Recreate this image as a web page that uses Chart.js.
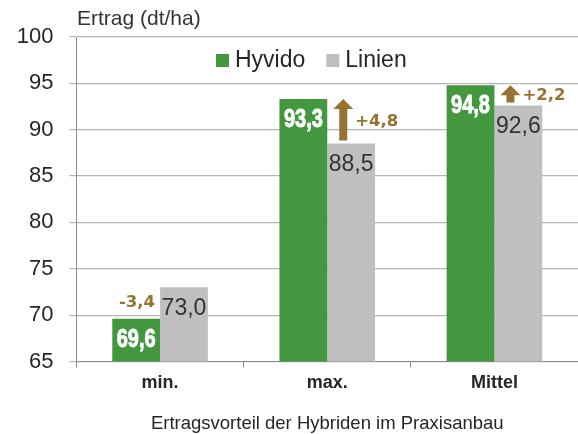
<!DOCTYPE html>
<html lang="de">
<head>
<meta charset="UTF-8">
<title>Ertragsvorteil der Hybriden</title>
<script src="https://cdn.jsdelivr.net/npm/chart.js@4/dist/chart.umd.min.js"></script>
<style>
  html, body { margin: 0; padding: 0; background: #fff; overflow: hidden; }
  #wrap { position: relative; width: 578px; height: 434px; }
</style>
</head>
<body>
<div id="wrap"><canvas id="chart" width="578" height="434"></canvas></div>
<script>
// values
const categories = ['min.', 'max.', 'Mittel'];
const hyvido = [69.6, 93.3, 94.8];
const linien = [73.0, 88.5, 92.6];
const diffLabels = ['-3,4', '+4,8', '+2,2'];
const yTicks = [65, 70, 75, 80, 85, 90, 95, 100];

const FONT = '"Liberation Sans", Arial, sans-serif';
const GREEN = '#43983f';
const GREY = '#bfbfbf';
const BROWN = '#987230';
const TEXT = '#262626';

Chart.defaults.font.family = FONT;
Chart.defaults.color = TEXT;

function fmt(v) {
  return v.toFixed(1).replace('.', ',');
}

// title, legend, value labels and the arrows
const extras = {
  id: 'extras',
  afterDatasetsDraw(chart) {
    const ctx = chart.ctx;
    const green = chart.getDatasetMeta(0).data;
    const grey = chart.getDatasetMeta(1).data;
    ctx.save();
    ctx.textBaseline = 'middle';
    ctx.textAlign = 'center';

    green.forEach((bar, i) => {
      ctx.save();
      ctx.translate(bar.x, bar.y + 21);
      ctx.scale(0.8, 1);
      ctx.font = 'bold 25px ' + FONT;
      ctx.fillStyle = '#fff';
      ctx.strokeStyle = '#fff';
      ctx.lineWidth = 0.9;
      ctx.fillText(fmt(hyvido[i]), 0, 0);
      ctx.strokeText(fmt(hyvido[i]), 0, 0);
      ctx.restore();
    });

    ctx.font = '23px ' + FONT;
    ctx.fillStyle = '#333';
    grey.forEach((bar, i) => {
      ctx.fillText(fmt(linien[i]), bar.x, bar.y + 21);
    });

    // difference marks
    ctx.fillStyle = BROWN;
    ctx.font = 'bold 16.5px "DejaVu Sans", sans-serif';
    grey.forEach((bar, i) => {
      const g = green[i];
      const left = bar.x - bar.width / 2;
      if (hyvido[i] >= linien[i]) {
        const ax = left + 16;
        const top = g.y;
        const bottom = bar.y - 3;
        ctx.beginPath();
        ctx.moveTo(ax, top);
        ctx.lineTo(ax + 10, top + 10);
        ctx.lineTo(ax + 4, top + 10);
        ctx.lineTo(ax + 4, bottom);
        ctx.lineTo(ax - 4, bottom);
        ctx.lineTo(ax - 4, top + 10);
        ctx.lineTo(ax - 10, top + 10);
        ctx.closePath();
        ctx.fill();
        ctx.textAlign = 'left';
        ctx.fillText(diffLabels[i], ax + 12, (top + bottom) / 2 + 2);
      } else {
        ctx.textAlign = 'right';
        ctx.fillText(diffLabels[i], left - 5, g.y - 16);
      }
    });
    ctx.restore();
  },
  afterDraw(chart) {
    const ctx = chart.ctx;
    ctx.save();
    ctx.fillStyle = '#333';
    ctx.font = '21px ' + FONT;
    ctx.textBaseline = 'alphabetic';
    ctx.textAlign = 'left';
    ctx.fillText('Ertrag (dt/ha)', 77, 25);

    // legend inside the plot
    let x = 216;
    ctx.font = '23px ' + FONT;
    ctx.textBaseline = 'middle';
    chart.data.datasets.forEach(ds => {
      ctx.fillStyle = ds.backgroundColor;
      ctx.fillRect(x, 54, 13, 13);
      ctx.fillStyle = TEXT;
      ctx.fillText(ds.label, x + 19, 61);
      x += 19 + ctx.measureText(ds.label).width + 21;
    });
    ctx.restore();
  }
};

new Chart(document.getElementById('chart'), {
  type: 'bar',
  data: {
    labels: categories,
    datasets: [
      { label: 'Hyvido', data: hyvido, backgroundColor: GREEN },
      { label: 'Linien', data: linien, backgroundColor: GREY }
    ]
  },
  options: {
    responsive: false,
    animation: false,
    devicePixelRatio: 1,
    layout: { padding: { top: 37, right: 0, bottom: 0, left: 0 } },
    datasets: {
      bar: { barPercentage: 1, categoryPercentage: 0.572, borderWidth: 0 }
    },
    plugins: {
      legend: { display: false },
      tooltip: { enabled: false }
    },
    scales: {
      x: {
        grid: {
          drawOnChartArea: false,
          drawTicks: true,
          tickLength: 6,
          color: '#8c8c8c'
        },
        border: { color: '#8c8c8c', width: 1 },
        ticks: {
          font: { size: 18, weight: 'bold' },
          color: TEXT,
          padding: 5
        },
        title: {
          display: true,
          text: 'Ertragsvorteil der Hybriden im Praxisanbau',
          font: { size: 18.5, lineHeight: 1.1 },
          color: TEXT,
          padding: { top: 0, bottom: 0 }
        },
        afterFit(scale) { scale.height = 72.5; }
      },
      y: {
        min: 65,
        max: 100,
        afterBuildTicks(scale) {
          scale.ticks = yTicks.map(v => ({ value: v }));
        },
        ticks: {
          font: { size: 22 },
          color: TEXT,
          padding: 16
        },
        grid: {
          color: '#b5b5b5',
          lineWidth: 1.2,
          tickLength: 7
        },
        border: { color: '#8c8c8c', width: 1 },
        afterFit(scale) { scale.width = 76.5; }
      }
    }
  },
  plugins: [extras]
});
</script>
</body>
</html>
